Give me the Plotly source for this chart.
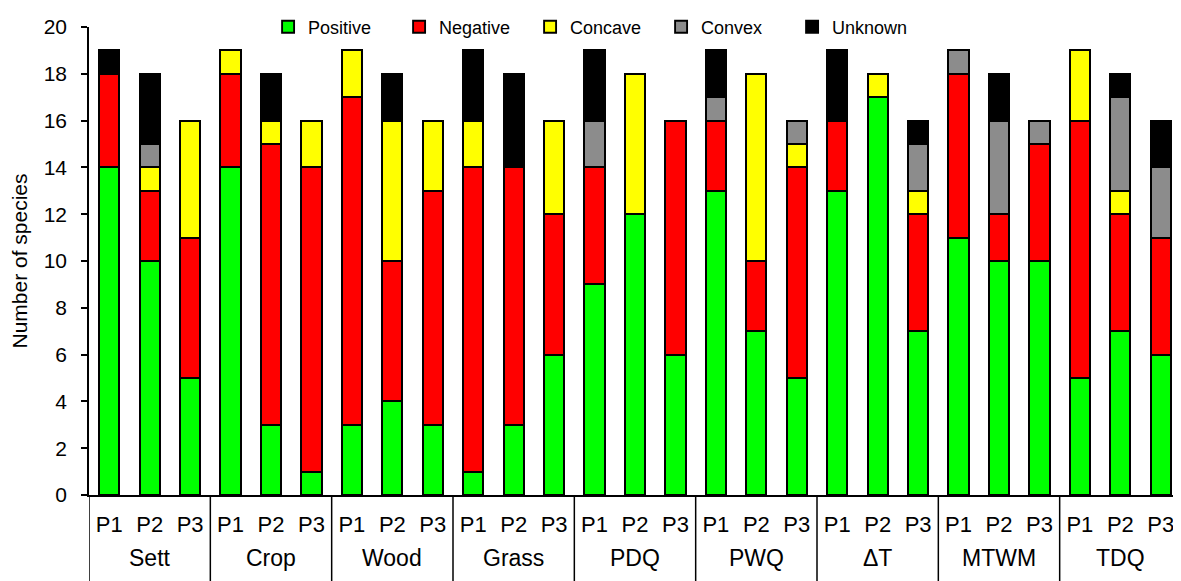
import plotly.graph_objects as go

groups = ["Sett", "Crop", "Wood", "Grass", "PDQ", "PWQ", "ΔT", "MTWM", "TDQ"]
periods = ["P1", "P2", "P3"]

# values per bar (group-major order: Sett P1, Sett P2, Sett P3, Crop P1, ...)
positive = [14, 10, 5, 14, 3, 1, 3, 4, 3, 1, 3, 6, 9, 12, 6, 13, 7, 5, 13, 17, 7, 11, 10, 10, 5, 7, 6]
negative = [4, 3, 6, 4, 12, 13, 14, 6, 10, 13, 11, 6, 5, 0, 10, 3, 3, 9, 3, 0, 5, 7, 2, 5, 11, 5, 5]
concave = [0, 1, 5, 1, 1, 2, 2, 6, 3, 2, 0, 4, 0, 6, 0, 0, 8, 1, 0, 1, 1, 0, 0, 0, 3, 1, 0]
convex = [0, 1, 0, 0, 0, 0, 0, 0, 0, 0, 0, 0, 2, 0, 0, 1, 0, 1, 0, 0, 2, 1, 4, 1, 0, 4, 3]
unknown = [1, 3, 0, 0, 2, 0, 0, 2, 0, 3, 4, 0, 3, 0, 0, 2, 0, 0, 3, 0, 1, 0, 2, 0, 0, 1, 2]

series = [
    ("Positive", positive, "#00FF00"),
    ("Negative", negative, "#FF0000"),
    ("Concave", concave, "#FFFF00"),
    ("Convex", convex, "#8C8C8C"),
    ("Unknown", unknown, "#000000"),
]

bar_ids = [f"{g} {p}" for g in groups for p in periods]
bar_periods = [p for _ in groups for p in periods]

FONT = "Liberation Sans, Arial, sans-serif"

fig = go.Figure()
for name, vals, col in series:
    fig.add_trace(go.Bar(
        x=bar_ids, y=vals, name=name,
        marker=dict(color=col, line=dict(color="#000000", width=1.9)),
    ))

n_per = len(periods)
# group dividers and group labels on the category axis
for k in range(len(groups) + 1):
    fig.add_shape(type="line", xref="x", yref="paper",
                  x0=k * n_per - 0.5, x1=k * n_per - 0.5, y0=0, y1=-0.2,
                  line=dict(color="#000000", width=1.5))
for k, g in enumerate(groups):
    fig.add_annotation(x=k * n_per + (n_per - 1) / 2, xref="x", y=-0.135, yref="paper",
                       text=g, showarrow=False, yanchor="middle",
                       font=dict(size=23, family=FONT, color="#000000"))

# page body has an 8px margin, so the figure is sized to fit inside the window
fig.update_layout(
    barmode="stack",
    bargap=0.5,
    width=1173, height=573,
    margin=dict(l=81, r=0, t=12, b=86),
    plot_bgcolor="white", paper_bgcolor="white",
    font=dict(family=FONT, size=19, color="#000000"),
    legend=dict(
        orientation="h", x=0.164, xanchor="left", y=1.0, yanchor="middle",
        font=dict(size=18), entrywidth=86, traceorder="normal",
        bgcolor="rgba(0,0,0,0)",
    ),
    xaxis=dict(
        type="category", automargin=False,
        range=[-0.5, len(bar_ids) - 0.5],
        tickmode="array", tickvals=bar_ids, ticktext=bar_periods,
        showline=True, linecolor="#000000", linewidth=1.5,
        showgrid=False, ticks="",
        ticklabelstandoff=9,
        tickfont=dict(size=22),
    ),
    yaxis=dict(
        range=[0, 20], dtick=2, automargin=False,
        showline=True, linecolor="#000000", linewidth=1.5,
        showgrid=False, zeroline=False,
        ticks="outside", ticklen=6, tickwidth=1.5, tickcolor="#000000",
        ticklabelstandoff=10,
        tickfont=dict(size=21),
        title=dict(text="Number of species", font=dict(size=21), standoff=12),
    ),
)

fig.write_html("out.html")
